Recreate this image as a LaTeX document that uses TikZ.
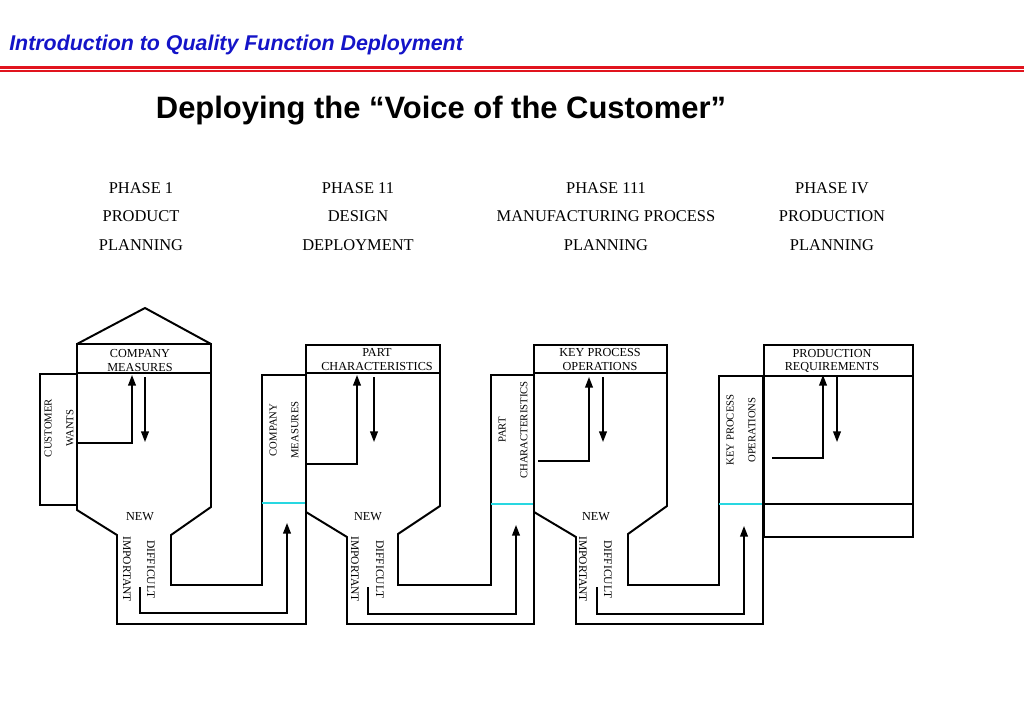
\documentclass[tikz,border=0pt]{standalone}
\usepackage{fontspec}
\setmainfont{Liberation Serif}
\newfontfamily\headfont{Liberation Sans}
\usetikzlibrary{arrows.meta}
\definecolor{introblue}{RGB}{20,20,200}
\definecolor{rulered}{RGB}{225,20,30}
\definecolor{splitcyan}{RGB}{40,215,225}

\begin{document}
\begin{tikzpicture}[x=0.025cm, y=-0.025cm,
  outline/.style = {draw, line width=1.4pt, line join=miter},
  arr/.style = {line width=1pt, -{Triangle[length=7.5pt, width=5.5pt]}},
  splitline/.style = {splitcyan, line width=1.2pt},
  phase/.style = {align=center, font=\fontsize{11.7}{20.2}\selectfont},
  boxlbl/.style = {align=center, inner sep=0pt, font=\fontsize{8.7}{9.6}\selectfont},
  uplbl/.style = {align=center, inner sep=0pt, rotate=90, font=\fontsize{7.6}{15.5}\selectfont},
  downlbl/.style = {anchor=west, inner sep=0pt, rotate=-90, font=\fontsize{8.2}{9}\selectfont}]
  \useasboundingbox (0,0) rectangle (1024,709);

  % header
  \node[anchor=base west, inner sep=0pt, text=introblue,
    font=\headfont\bfseries\itshape\fontsize{15.2}{18}\selectfont] (intro) at (9,51)
    {Introduction to Quality Function Deployment};
  \draw[rulered, line width=1.8pt] (0,67.5) -- (1024,67.5);
  \draw[rulered, line width=1.1pt] (0,71) -- (1024,71);
  \node[anchor=base, inner sep=0pt, font=\headfont\bfseries\fontsize{22}{26}\selectfont] (title)
    at (441,119) {Deploying the “Voice of the Customer”};

  % phases
  \node[phase] (ph1) at (141,216.5) {PHASE 1\\PRODUCT\\PLANNING};
  \node[phase] (ph2) at (358,216.5) {PHASE 11\\DESIGN\\DEPLOYMENT};
  \node[phase] (ph3) at (606,216.5) {PHASE 111\\MANUFACTURING PROCESS\\PLANNING};
  \node[phase] (ph4) at (832,216.5) {PHASE IV\\PRODUCTION\\PLANNING};

  % phase 1 house
  \draw[outline] (77,344) -- (145,308) -- (211,344);
  \draw[outline] (77,344) rectangle (211,373);
  \node[boxlbl] (cm1) at (140,360.5) {COMPANY\\MEASURES};
  \draw[outline] (40,374) rectangle (77,505);
  \node[uplbl] (cw) at (59,428) {CUSTOMER\\WANTS};
  \draw[outline] (77,373) -- (77,510) -- (117,535) -- (117,624) -- (306,624) -- (306,373);
  \draw[outline] (211,373) -- (211,507) -- (171,535) -- (171,585) -- (262,585) -- (262,375) -- (306,375);
  \draw[splitline] (262,503) -- (305,503);
  \node[boxlbl] (new1) at (140,517) {NEW};
  \node[downlbl] (imp1) at (127,536) {IMPORTANT};
  \node[downlbl] (dif1) at (151,540) {DIFFICULT};
  \draw[arr] (77,443) -| (132,375);
  \draw[arr] (145,377) -- (145,442);
  \draw[arr] (140,587) |- (287,613) -- (287,523);

  % phase 2 house
  \draw[outline] (306,345) rectangle (440,373);
  \node[boxlbl] (pc1) at (377,359.5) {PART\\CHARACTERISTICS};
  \node[uplbl] (cm2) at (284,430) {COMPANY\\MEASURES};
  \draw[outline] (306,512) -- (347,537) -- (347,624) -- (534,624) -- (534,373);
  \draw[outline] (440,373) -- (440,506) -- (398,534) -- (398,585) -- (491,585) -- (491,375) -- (534,375);
  \draw[splitline] (491,504) -- (533,504);
  \node[boxlbl] (new2) at (368,517) {NEW};
  \node[downlbl] (imp2) at (355,536) {IMPORTANT};
  \node[downlbl] (dif2) at (380,540) {DIFFICULT};
  \draw[arr] (306,464) -| (357,375);
  \draw[arr] (374,377) -- (374,442);
  \draw[arr] (368,587) |- (516,614) -- (516,525);

  % phase 3 house
  \draw[outline] (534,345) rectangle (667,373);
  \node[boxlbl] (kp1) at (600,359.5) {KEY PROCESS\\OPERATIONS};
  \node[uplbl] (pc2) at (513,430) {PART\\CHARACTERISTICS};
  \draw[outline] (534,512) -- (576,537) -- (576,624) -- (763,624) -- (763,376);
  \draw[outline] (667,373) -- (667,506) -- (628,534) -- (628,585) -- (719,585) -- (719,376) -- (763,376);
  \draw[splitline] (719,504) -- (762,504);
  \node[boxlbl] (new3) at (596,517) {NEW};
  \node[downlbl] (imp3) at (583,536) {IMPORTANT};
  \node[downlbl] (dif3) at (608,540) {DIFFICULT};
  \draw[arr] (538,461) -| (589,377);
  \draw[arr] (603,377) -- (603,442);
  \draw[arr] (597,587) |- (744,614) -- (744,526);

  % phase 4 house
  \draw[outline] (764,345) rectangle (913,376);
  \node[boxlbl] (pr1) at (832,361) {PRODUCTION\\REQUIREMENTS};
  \node[uplbl] (kp2) at (741,430) {KEY PROCESS\\OPERATIONS};
  \draw[outline] (764,376) rectangle (913,504);
  \draw[outline] (764,504) rectangle (913,537);
  \draw[arr] (772,458) -| (823,375);
  \draw[arr] (837,377) -- (837,442);
\end{tikzpicture}
\end{document}
